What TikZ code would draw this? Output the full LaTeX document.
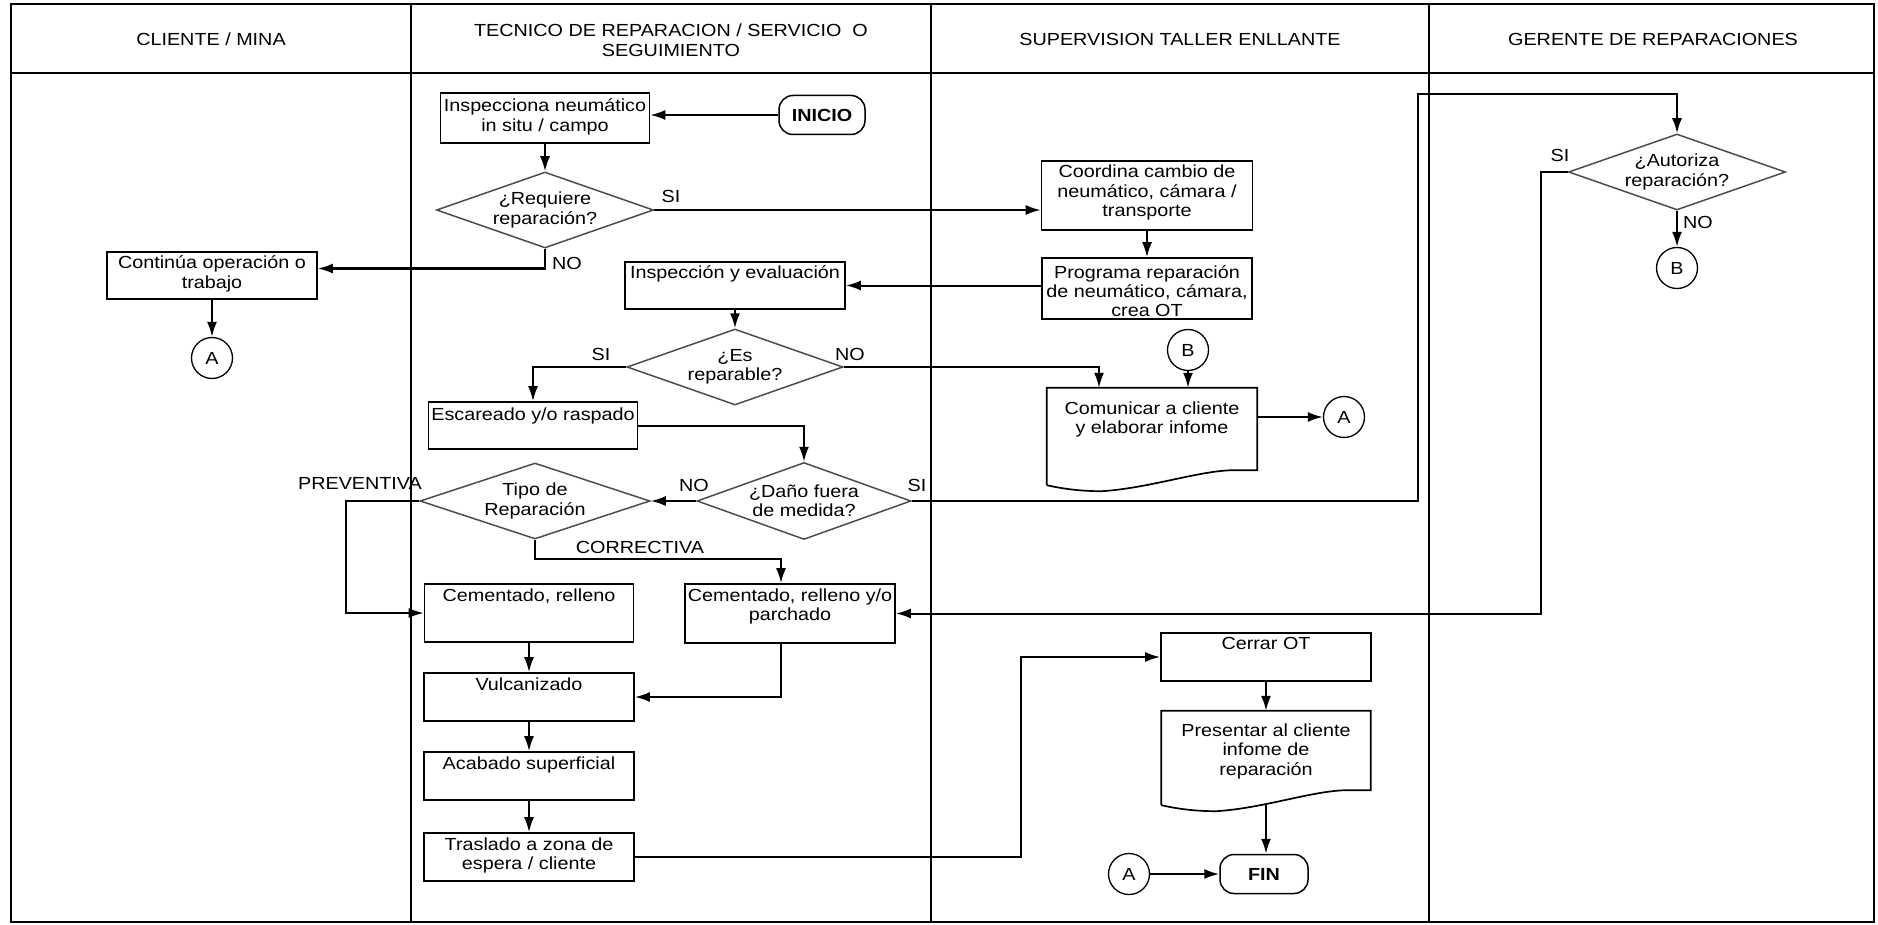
\documentclass[tikz,border=0pt]{standalone}
\usepackage{fontspec}
\setmainfont{Liberation Sans}[FakeStretch=1.13]
\usetikzlibrary{shapes.geometric,arrows.meta,calc}
\newcommand\bxt[4]{\parbox[c][#2pt][t]{#1pt}{\centering\rule{0pt}{#3pt}#4}}
\newcommand\docpath[1]{%
  \draw[line width=1.7pt] (#1.south west) -- (#1.north west) -- (#1.north east)
    -- ($(#1.south east)+(0,-15)$) -- ($(#1.south east)+(-23,-15)$)
    .. controls ($(#1.south east)+(-57,-15)$) and ($(#1.south west)+(103,3)$) .. ($(#1.south west)+(55,6)$)
    .. controls ($(#1.south west)+(35,6)$) and ($(#1.south west)+(18,4)$) .. (#1.south west);}
\begin{document}
\begin{tikzpicture}[x=1pt,y=-1pt,font=\fontsize{17.5}{19.5}\selectfont,
  frame/.style={line width=1.3pt,draw=black},
  box/.style={draw,line width=1.7pt,inner sep=0pt},
  doc/.style={inner sep=0pt},
  dia/.style={diamond,draw=black!70,line width=1.5pt,aspect=2.9,inner sep=0pt,align=center},
  conn/.style={circle,draw,line width=1.3pt,minimum size=41pt,inner sep=0pt},
  term/.style={draw,line width=1.5pt,rounded corners=14pt,minimum width=86pt,minimum height=39pt,inner sep=0pt,font=\fontsize{17.5}{19.5}\selectfont\bfseries},
  arr/.style={line width=2pt,-{Latex[length=15pt,width=10pt]}},
  lbl/.style={inner sep=0pt},
  head/.style={align=center,inner sep=0pt}]
\useasboundingbox (0,0) rectangle (1878,925);
% frame and lanes
\draw[frame] (11,4) rectangle (1874,922);
\draw[frame] (11,73) -- (1874,73);
\draw[frame] (411,4) -- (411,922);
\draw[frame] (931,4) -- (931,922);
\draw[frame] (1429,4) -- (1429,922);
\node[head] (h1) at (211,39) {CLIENTE / MINA};
\node[head] (h2) at (671,40) {TECNICO DE REPARACION / SERVICIO \ O\\SEGUIMIENTO};
\node[head] (h3) at (1180,39) {SUPERVISION TALLER ENLLANTE};
\node[head] (h4) at (1653,39) {GERENTE DE REPARACIONES};
% nodes
\node[term] (inicio) at (822,115) {INICIO};
\node[box] (insp) at (545,118) {\bxt{209}{50}{19}{Inspecciona neumático\\in situ / campo}};
\node[dia,minimum width=217pt,minimum height=76pt] (req) at (545,210) {¿Requiere\\reparación?};
\node[box] (cont) at (212,275.5) {\bxt{210}{47}{17}{Continúa operación o\\trabajo}};
\node[conn] (a1) at (212,358) {A};
\node[box] (coord) at (1147,195.5) {\bxt{211}{69}{17}{Coordina cambio de\\neumático, cámara /\\transporte}};
\node[box] (prog) at (1147,288.5) {\bxt{210}{61}{20}{Programa reparación\\de neumático, cámara,\\crea OT}};
\node[box] (inspeval) at (735,285.5) {\bxt{220}{47}{17}{Inspección y evaluación}};
\node[dia,minimum width=216pt,minimum height=76pt] (esrep) at (735,367) {¿Es\\reparable?};
\node[box] (escar) at (533,425.5) {\bxt{209}{47}{18}{Escareado y/o raspado}};
\node[conn] (b2) at (1188,350) {B};
\node[doc] (comun) at (1152,436.5) {\bxt{210}{97}{26}{Comunicar a cliente\\y elaborar infome}};
\docpath{comun}
\node[conn] (a2) at (1344,417) {A};
\node[dia,minimum width=214pt,minimum height=77pt] (dano) at (804,501) {¿Daño fuera\\de medida?};
\node[dia,minimum width=230pt,minimum height=76pt] (tipo) at (535,501) {Tipo de\\Reparación};
\node[dia,minimum width=217pt,minimum height=76pt] (aut) at (1677,172) {¿Autoriza\\reparación?};
\node[conn] (b3) at (1677,268) {B};
\node[box] (cem1) at (529,613) {\bxt{209}{58}{17}{Cementado, relleno}};
\node[box] (cem2) at (790,613.5) {\bxt{210}{59}{17}{Cementado, relleno y/o\\parchado}};
\node[box] (vulc) at (529,697) {\bxt{210}{48}{17}{Vulcanizado}};
\node[box] (acab) at (529,776) {\bxt{210}{48}{17}{Acabado superficial}};
\node[box] (trasl) at (529,857) {\bxt{210}{48}{17}{Traslado a zona de\\espera / cliente}};
\node[box] (cerrar) at (1266,657) {\bxt{210}{48}{16}{Cerrar OT}};
\node[doc] (pres) at (1266,758) {\bxt{209}{94}{25}{Presentar al cliente\\infome de\\reparación}};
\docpath{pres}
\node[term,minimum width=88pt] (fin) at (1264,874) {FIN};
\node[conn] (a3) at (1129,874) {A};
% coordinates for bends
\coordinate (c1) at (1418,94);
\coordinate (c2) at (1541,172);
\coordinate (c3) at (346,501);
\coordinate (c4) at (781,559);
\coordinate (c5) at (1021,657);
% connectors
\draw[arr] (inicio.west) -- (inicio.west -| insp.east);
\draw[arr] (insp.south) -- (insp.south |- req.north);
\draw[arr] (req.east) -- (req.east -| coord.west);
\draw[arr] (req.south) |- ([yshift=7pt]cont.east);
\draw[arr] (cont.south) -- (a1.north);
\draw[arr] (coord.south) -- (prog.north);
\draw[arr] (prog.west |- inspeval.east) -- (inspeval.east);
\draw[arr] (inspeval.south) -- (esrep.north);
\draw[arr] (esrep.west) -| (escar.north);
\draw[arr] (esrep.east) -| ([xshift=-53pt]comun.north);
\draw[arr] (b2.south) -- (b2.south |- comun.north);
\draw[arr] (a2.west -| comun.east) -- (a2.west);
\draw[arr] (escar.east) -| (dano.north);
\draw[arr] (dano.west) -- (tipo.east);
\draw[arr] (dano.east) -| (c1) -| (aut.north);
\draw[arr] (aut.west) -- (c2) |- (cem2.east);
\draw[arr] (aut.south) -- (b3.north);
\draw[arr] (tipo.west) -- (c3) |- (cem1.west);
\draw[arr] (tipo.south) |- (c4) -- (c4 |- cem2.north);
\draw[arr] (c4 |- cem2.south) |- (vulc.east);
\draw[arr] (cem1.south) -- (cem1.south |- vulc.north);
\draw[arr] (vulc.south) -- (acab.north);
\draw[arr] (acab.south) -- (trasl.north);
\draw[arr] (trasl.east) -| (c5) -- (cerrar.west);
\draw[arr] (cerrar.south) -- (pres.north);
\draw[arr] (pres.south) -- (pres.south |- fin.north);
\draw[arr] (a3.east) -- (fin.west);
% labels
\node[lbl] (l1) at (671,196) {SI};
\node[lbl] (l2) at (567,263) {NO};
\node[lbl] (l3) at (601,354) {SI};
\node[lbl] (l4) at (850,354) {NO};
\node[lbl] (l5) at (694,485) {NO};
\node[lbl] (l6) at (917,485) {SI};
\node[lbl] (l7) at (360,483) {PREVENTIVA};
\node[lbl] (l8) at (640,547) {CORRECTIVA};
\node[lbl] (l9) at (1560,155) {SI};
\node[lbl] (l10) at (1698,222) {NO};
\end{tikzpicture}
\end{document}
